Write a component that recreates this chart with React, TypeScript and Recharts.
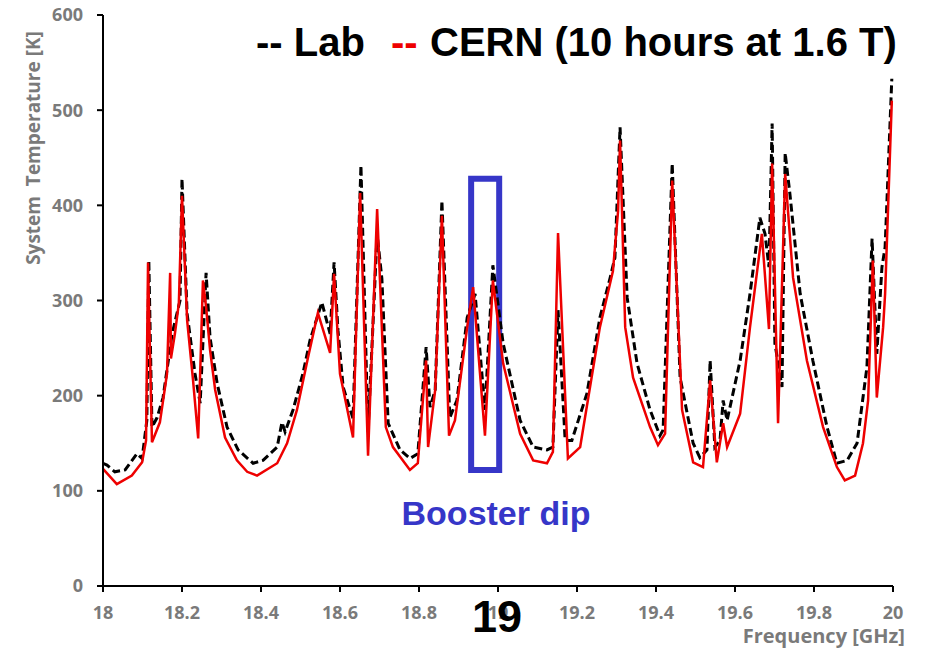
import React from 'react';
import { LineChart, Line, XAxis, YAxis, ReferenceArea } from 'recharts';

// Lab measurement (black dashed)
const labFreq = [
  18.000, 18.010, 18.030, 18.056, 18.086, 18.099, 18.111, 18.116, 18.124, 18.137,
  18.152, 18.175, 18.187, 18.195, 18.200, 18.213, 18.233, 18.246, 18.261, 18.271,
  18.289, 18.314, 18.342, 18.380, 18.405, 18.441, 18.453, 18.461, 18.481, 18.506,
  18.524, 18.554, 18.575, 18.585, 18.595, 18.608, 18.633, 18.653, 18.671, 18.694,
  18.706, 18.722, 18.752, 18.777, 18.797, 18.818, 18.828, 18.841, 18.858, 18.878,
  18.896, 18.922, 18.942, 18.967, 18.987, 19.013, 19.056, 19.089, 19.124, 19.139,
  19.152, 19.170, 19.187, 19.225, 19.258, 19.284, 19.296, 19.309, 19.327, 19.352,
  19.385, 19.410, 19.418, 19.441, 19.461, 19.494, 19.511, 19.529, 19.537, 19.549,
  19.562, 19.570, 19.580, 19.613, 19.638, 19.663, 19.676, 19.686, 19.694, 19.701,
  19.719, 19.727, 19.739, 19.765, 19.797, 19.833, 19.858, 19.884, 19.909, 19.934,
  19.947, 19.959, 19.972, 19.980, 19.997,
];
const labTemp = [
  129, 127, 120, 122, 139, 134, 174, 342, 167, 177,
  198, 265, 286, 300, 428, 286, 223, 192, 329, 261,
  213, 167, 143, 129, 132, 146, 172, 162, 185, 223,
  258, 298, 265, 340, 268, 209, 176, 442, 162, 370,
  323, 171, 143, 134, 139, 251, 188, 206, 405, 177,
  195, 282, 307, 185, 337, 255, 174, 146, 143, 146,
  290, 153, 153, 202, 282, 324, 345, 482, 303, 234,
  185, 158, 164, 444, 219, 150, 135, 143, 237, 146,
  153, 195, 174, 237, 307, 387, 370, 335, 486, 255,
  209, 455, 412, 307, 237, 167, 129, 132, 150, 230,
  365, 244, 335, 356, 533,
];

// CERN measurement, 10 hours at 1.6 T (red solid)
const cernFreq = [
  18.000, 18.035, 18.073, 18.099, 18.109, 18.114, 18.124, 18.144, 18.162, 18.170,
  18.172, 18.182, 18.192, 18.200, 18.213, 18.228, 18.241, 18.253, 18.261, 18.271,
  18.284, 18.309, 18.339, 18.365, 18.390, 18.441, 18.466, 18.491, 18.519, 18.544,
  18.575, 18.585, 18.600, 18.633, 18.651, 18.671, 18.694, 18.716, 18.734, 18.777,
  18.797, 18.818, 18.823, 18.841, 18.858, 18.876, 18.891, 18.922, 18.937, 18.967,
  18.987, 19.013, 19.056, 19.089, 19.124, 19.139, 19.152, 19.177, 19.208, 19.258,
  19.291, 19.304, 19.309, 19.322, 19.342, 19.385, 19.405, 19.423, 19.441, 19.466,
  19.494, 19.519, 19.537, 19.554, 19.570, 19.580, 19.613, 19.638, 19.668, 19.686,
  19.694, 19.709, 19.727, 19.747, 19.782, 19.823, 19.858, 19.878, 19.904, 19.924,
  19.937, 19.949, 19.959, 19.975, 19.980, 19.997,
];
const cernTemp = [
  123, 107, 116, 130, 153, 340, 151, 172, 223, 329,
  239, 265, 297, 410, 279, 216, 155, 321, 293, 248,
  206, 156, 132, 120, 116, 129, 150, 185, 240, 287,
  245, 328, 223, 156, 413, 137, 396, 167, 146, 122,
  129, 237, 146, 206, 389, 158, 174, 272, 314, 158,
  321, 234, 160, 132, 129, 141, 371, 134, 146, 272,
  331, 394, 468, 272, 219, 167, 148, 160, 426, 185,
  130, 125, 216, 130, 171, 146, 181, 272, 370, 270,
  444, 171, 433, 324, 237, 167, 125, 111, 116, 150,
  195, 342, 198, 272, 307, 510,
];

const xTicks = [18, 18.2, 18.4, 18.6, 18.8, 19, 19.2, 19.4, 19.6, 19.8, 20];
const yTicks = [0, 100, 200, 300, 400, 500, 600];

// Booster dip box (frequency range and temperature range)
const boxFreq = [18.932, 19.003];
const boxTemp = [122, 428];

const labData = labFreq.map((f, i) => ({ f, t: labTemp[i] }));
const cernData = cernFreq.map((f, i) => ({ f, t: cernTemp[i] }));

const GREY = '#7a7a7a';
const AXIS_FONT = '"Open Sans", sans-serif';
const BIG_FONT = '"Liberation Sans", Arial, sans-serif';

export default function App() {
  return (
    <div style={{ position: 'absolute', left: 0, top: 0, width: 926, height: 649, background: '#fff' }}>
      <LineChart
        width={926}
        height={649}
        margin={{ top: 15, right: 33, bottom: 33, left: 43 }}
      >
        <XAxis
          type="number"
          dataKey="f"
          domain={[18, 20]}
          ticks={xTicks}
          allowDuplicatedCategory={false}
          height={30}
          axisLine={{ stroke: '#000', strokeWidth: 2 }}
          tickLine={{ stroke: '#000', strokeWidth: 2 }}
          tickSize={6}
          tickMargin={14}
          tick={{ fill: GREY, fontSize: 18, fontWeight: 700, fontFamily: AXIS_FONT }}
          tickFormatter={(v: number) => String(v)}
        />
        <YAxis
          type="number"
          dataKey="t"
          domain={[0, 600]}
          ticks={yTicks}
          width={60}
          axisLine={{ stroke: '#000', strokeWidth: 2 }}
          tickLine={{ stroke: '#000', strokeWidth: 2 }}
          tickSize={6}
          tickMargin={14}
          tick={{ fill: GREY, fontSize: 18, fontWeight: 700, fontFamily: AXIS_FONT }}
        />
        <Line
          data={labData}
          dataKey="t"
          type="linear"
          stroke="#000"
          strokeWidth={3}
          strokeDasharray="8 4"
          dot={false}
          activeDot={false}
          isAnimationActive={false}
        />
        <Line
          data={cernData}
          dataKey="t"
          type="linear"
          stroke="#ee0000"
          strokeWidth={2.5}
          dot={false}
          activeDot={false}
          isAnimationActive={false}
        />
        <ReferenceArea
          x1={boxFreq[0]}
          x2={boxFreq[1]}
          y1={boxTemp[0]}
          y2={boxTemp[1]}
          fill="none"
          fillOpacity={0}
          stroke="#3636c8"
          strokeWidth={6}
          ifOverflow="visible"
        />
      </LineChart>
      <svg
        width={926}
        height={649}
        style={{ position: 'absolute', left: 0, top: 0, pointerEvents: 'none' }}
      >
        <text
          y={56}
          fontFamily={BIG_FONT}
          fontWeight={700}
          fontSize={40}
          fill="#000"
        >
          <tspan x={256}>-- Lab</tspan>
          <tspan x={391} fill="#ee0000">--</tspan>
          <tspan x={430}>CERN (10 hours at 1.6 T)</tspan>
        </text>
        <text
          x={33}
          y={148}
          transform="rotate(-90 33 148)"
          textAnchor="middle"
          dominantBaseline="central"
          fontFamily={AXIS_FONT}
          fontWeight={700}
          fontSize={19}
          fill={GREY}
          style={{ whiteSpace: 'pre' }}
        >
          {'System  Temperature [K]'}
        </text>
        <text
          x={905}
          y={643}
          textAnchor="end"
          fontFamily={AXIS_FONT}
          fontWeight={700}
          fontSize={20}
          fill={GREY}
        >
          Frequency [GHz]
        </text>
        <text
          x={496}
          y={525}
          textAnchor="middle"
          fontFamily={BIG_FONT}
          fontWeight={700}
          fontSize={34}
          fill="#3636c8"
        >
          Booster dip
        </text>
        <text
          x={497}
          y={632}
          textAnchor="middle"
          fontFamily={BIG_FONT}
          fontWeight={700}
          fontSize={45}
          fill="#000"
        >
          19
        </text>
      </svg>
    </div>
  );
}
